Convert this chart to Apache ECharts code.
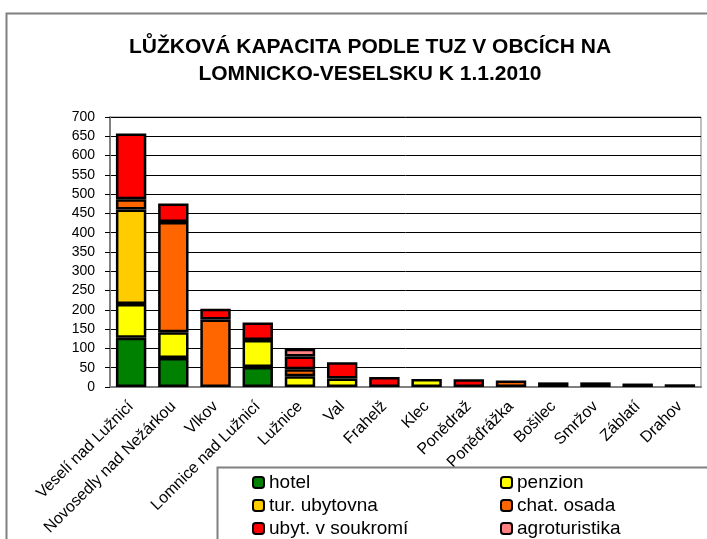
<!DOCTYPE html>
<html>
<head>
<meta charset="utf-8">
<script src="https://cdn.jsdelivr.net/npm/echarts@6/dist/echarts.min.js"></script>
<style>
  html, body { margin: 0; padding: 0; background: #fff; }
  #chart { width: 707px; height: 539px; }
</style>
</head>
<body>
<div id="chart"></div>
<script>
// obce
var obce = ['Veselí nad Lužnicí', 'Novosedly nad Nežárkou', 'Vlkov', 'Lomnice nad Lužnicí',
  'Lužnice', 'Val', 'Frahelž', 'Klec', 'Ponědraž', 'Poněďrážka', 'Bošilec', 'Smržov', 'Záblatí', 'Drahov'];
// lůžka podle typu zařízení
var hotel        = [128, 75, 0, 52, 0, 0, 0, 0, 0, 0, 0, 0, 0, 7];
var penzion      = [87, 67, 0, 70, 28, 22, 0, 21, 0, 0, 0, 0, 9, 0];
var turUbytovna  = [245, 0, 0, 0, 0, 0, 0, 0, 0, 0, 0, 0, 0, 0];
var chatOsada    = [27, 286, 175, 0, 18, 0, 0, 0, 0, 17, 0, 0, 0, 0];
var ubytSoukromi = [170, 48, 28, 45, 33, 42, 26, 0, 20, 0, 12, 12, 0, 0];
var agroturistika = [0, 0, 0, 0, 20, 0, 0, 0, 0, 0, 0, 0, 0, 0];
var yTicks = [0, 50, 100, 150, 200, 250, 300, 350, 400, 450, 500, 550, 600, 650, 700];

var font = 'Liberation Sans, Arial, sans-serif';

function serie(name, data, color) {
  return {
    name: name,
    type: 'bar',
    stack: 'lk',
    barCategoryGap: '28%',
    // nuly nekreslit
    data: data.map(function (v) { return v === 0 ? '-' : v; }),
    itemStyle: { color: color, borderColor: '#000', borderWidth: 2.5 }
  };
}

var myChart = echarts.init(document.getElementById('chart'));
myChart.setOption({
  animation: false,
  backgroundColor: '#fff',
  textStyle: { fontFamily: font },
  title: {
    text: 'LŮŽKOVÁ KAPACITA PODLE TUZ V OBCÍCH NA\nLOMNICKO-VESELSKU K 1.1.2010',
    left: 365,
    top: 29,
    textAlign: 'center',
    textStyle: { fontFamily: font, fontSize: 21, fontWeight: 'bold', color: '#000', lineHeight: 27 }
  },
  grid: { left: 110, right: 6, top: 117, bottom: 152, show: true, borderColor: '#808080', borderWidth: 1 },
  xAxis: {
    type: 'category',
    data: obce,
    axisLine: { lineStyle: { color: '#808080', width: 2 } },
    axisTick: { length: 5, lineStyle: { color: '#000' } },
    axisLabel: { rotate: 45, interval: 0, fontSize: 16, color: '#000', margin: 17 }
  },
  yAxis: {
    type: 'value',
    min: yTicks[0],
    max: yTicks[yTicks.length - 1],
    interval: 50,
    axisLine: { show: true, lineStyle: { color: '#808080', width: 2 } },
    axisTick: { show: true, length: 5, lineStyle: { color: '#000' } },
    axisLabel: { fontSize: 14, color: '#000', margin: 15 },
    splitLine: { lineStyle: { color: '#000', width: 1 } }
  },
  legend: [
    {
      data: ['hotel', 'tur. ubytovna', 'ubyt. v soukromí'],
      orient: 'vertical', left: 247, top: 468, height: 150, z: 10,
      itemWidth: 11, itemHeight: 11, itemGap: 4,
      textStyle: { fontSize: 19, color: '#000', fontFamily: font }
    },
    {
      data: ['penzion', 'chat. osada', 'agroturistika'],
      orient: 'vertical', left: 495, top: 468, height: 150, z: 10,
      itemWidth: 11, itemHeight: 11, itemGap: 4,
      textStyle: { fontSize: 19, color: '#000', fontFamily: font }
    }
  ],
  graphic: [
    { type: 'rect', z: -1, shape: { x: 6.5, y: 13.5, width: 800, height: 600 },
      style: { fill: 'none', stroke: '#808080', lineWidth: 2 } },
    { type: 'rect', z: 5, shape: { x: 217.5, y: 467.5, width: 600, height: 200 },
      style: { fill: '#fff', stroke: '#808080', lineWidth: 2 } }
  ],
  series: [
    serie('hotel', hotel, '#008000'),
    serie('penzion', penzion, '#FFFF00'),
    serie('tur. ubytovna', turUbytovna, '#FFCC00'),
    serie('chat. osada', chatOsada, '#FF6600'),
    serie('ubyt. v soukromí', ubytSoukromi, '#FF0000'),
    serie('agroturistika', agroturistika, '#FF8080')
  ]
});
window.addEventListener('resize', function () {
  myChart.resize();
});
</script>
</body>
</html>
